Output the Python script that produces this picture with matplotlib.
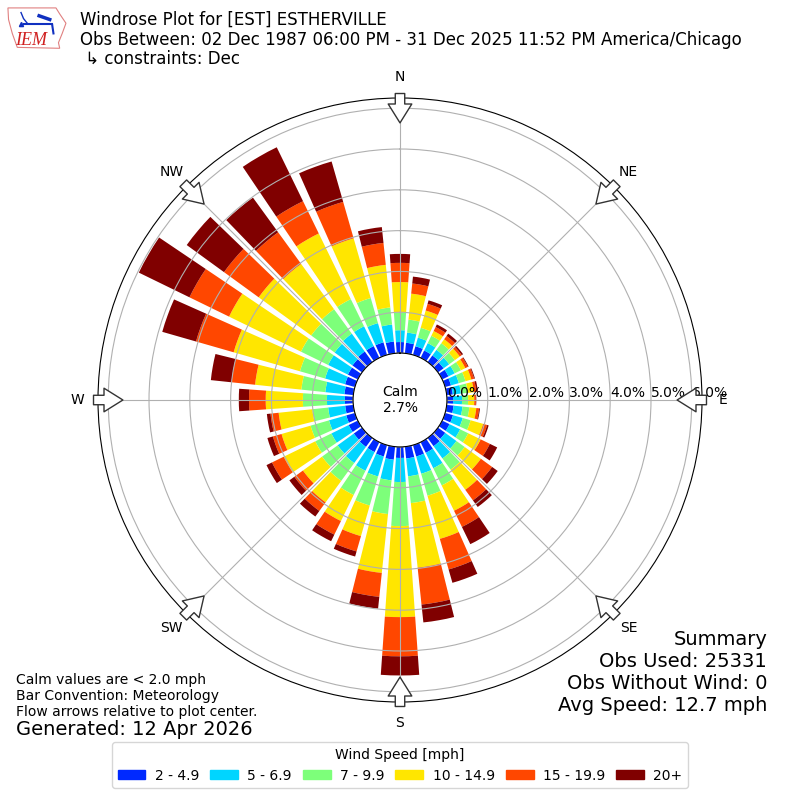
import numpy as np
import matplotlib
matplotlib.use("Agg")
import matplotlib.pyplot as plt
from matplotlib.patches import Patch, Polygon

# wind directions (deg, meteorological) and frequency (%) per speed bin
directions = np.arange(0, 360, 10)
speed_labels = ["2 - 4.9", "5 - 6.9", "7 - 9.9", "10 - 14.9", "15 - 19.9", "20+"]

freq_2_5 = [0.27, 0.26, 0.22, 0.20, 0.20, 0.17, 0.17, 0.15, 0.15, 0.15, 0.17, 0.20,
            0.20, 0.22, 0.25, 0.29, 0.29, 0.29, 0.27, 0.32, 0.29, 0.27, 0.27, 0.25,
            0.25, 0.22, 0.20, 0.20, 0.22, 0.25, 0.27, 0.29, 0.32, 0.32, 0.32, 0.29]
freq_5_7 = [0.29, 0.25, 0.22, 0.20, 0.17, 0.17, 0.17, 0.20, 0.20, 0.22, 0.22, 0.25,
            0.29, 0.34, 0.37, 0.42, 0.44, 0.44, 0.59, 0.51, 0.51, 0.51, 0.49, 0.49,
            0.47, 0.44, 0.42, 0.44, 0.47, 0.51, 0.54, 0.54, 0.54, 0.54, 0.49, 0.42]
freq_7_10 = [0.44, 0.32, 0.25, 0.20, 0.20, 0.17, 0.17, 0.17, 0.17, 0.15, 0.17, 0.20,
             0.22, 0.25, 0.34, 0.47, 0.56, 0.66, 1.08, 0.83, 0.74, 0.66, 0.54, 0.47,
             0.44, 0.47, 0.39, 0.59, 0.59, 0.64, 0.74, 0.71, 0.74, 0.74, 0.64, 0.42]
freq_10_15 = [0.74, 0.64, 0.44, 0.13, 0.12, 0.15, 0.12, 0.15, 0.15, 0.15, 0.17, 0.32,
              0.34, 0.49, 0.61, 0.69, 1.10, 1.59, 2.23, 1.45, 0.78, 0.71, 0.65, 0.58,
              0.86, 0.74, 0.83, 0.91, 1.14, 1.69, 1.96, 1.59, 1.37, 1.79, 1.52, 1.05]
freq_15_20 = [0.47, 0.25, 0.17, 0.11, 0.10, 0.06, 0.07, 0.07, 0.06, 0.04, 0.07, 0.10,
              0.25, 0.34, 0.32, 0.44, 0.78, 0.91, 0.96, 0.59, 0.39, 0.37, 0.26, 0.26,
              0.32, 0.22, 0.20, 0.41, 0.58, 0.96, 1.08, 1.05, 0.96, 0.88, 0.93, 0.54]
freq_20 = [0.22, 0.17, 0.09, 0.07, 0.07, 0.04, 0.02, 0.02, 0.04, 0.01, 0.02, 0.04,
           0.20, 0.17, 0.20, 0.47, 0.34, 0.44, 0.47, 0.29, 0.13, 0.18, 0.17, 0.15,
           0.15, 0.14, 0.09, 0.25, 0.51, 0.86, 1.38, 1.13, 1.05, 1.47, 1.03, 0.39]

freqs = [freq_2_5, freq_5_7, freq_7_10, freq_10_15, freq_15_20, freq_20]

calm_pct = 2.7
r_ticks = [0, 1, 2, 3, 4, 5, 6]
compass = ["N", "NE", "E", "SE", "S", "SW", "W", "NW"]

colors = [plt.get_cmap("jet")(v) for v in np.linspace(1 / 6, 1, 6)]

fig = plt.figure(figsize=(8, 8), dpi=100)
ax = fig.add_axes([98 / 800, 98 / 800, 604 / 800, 604 / 800], projection="polar")
ax.set_theta_zero_location("N")
ax.set_theta_direction(-1)

theta = np.deg2rad(directions)
width = np.deg2rad(8)
bottom = np.zeros(len(directions))
for vals, col, lab in zip(freqs, colors, speed_labels):
    vals = np.array(vals)
    ax.bar(theta, vals, width=width, bottom=bottom, color=col, linewidth=0, label=lab)
    bottom += vals

ax.set_rorigin(-1.15)
ax.set_ylim(0, 6.25)
ax.set_yticks(r_ticks)
ax.set_yticklabels([f"{t:.1f}%" for t in r_ticks], fontsize=10)
ax.set_rlabel_position(90)
ax.set_thetagrids(np.arange(0, 360, 45), labels=compass, fontsize=10)
ax.tick_params(axis="x", pad=4.6)

# flow arrows pointing to the plot center
for ang in np.arange(0, 360, 45):
    t = np.deg2rad(ang)
    ax.annotate("", xy=(t, 5.64), xytext=(t, 6.36), annotation_clip=False,
                arrowprops=dict(arrowstyle="simple,head_length=0.8,head_width=1.0,tail_width=0.4",
                                mutation_scale=17, fc="white", ec="#333333", lw=1,
                                shrinkA=0, shrinkB=0))

ax.text(0.5, 0.5, f"Calm\n{calm_pct:.1f}%", transform=ax.transAxes,
        ha="center", va="center", fontsize=10)

fig.text(0.1, 0.986, "Windrose Plot for [EST] ESTHERVILLE\n"
         "Obs Between: 02 Dec 1987 06:00 PM - 31 Dec 2025 11:52 PM America/Chicago\n"
         " \u21b3 constraints: Dec", ha="left", va="top", fontsize=12, linespacing=1.1)

fig.text(0.959, 0.159, "Summary\nObs Used: 25331\nObs Without Wind: 0\nAvg Speed: 12.7 mph",
         ha="right", va="center", fontsize=14, linespacing=1.2)

fig.text(0.02, 0.13, "Calm values are < 2.0 mph\nBar Convention: Meteorology\n"
         "Flow arrows relative to plot center.", ha="left", va="center", fontsize=10)
fig.text(0.02, 0.088, "Generated: 12 Apr 2026", ha="left", va="center", fontsize=14)

handles = [Patch(color=c) for c in colors]
fig.legend(handles, speed_labels, loc="lower center", bbox_to_anchor=(0.5, 0.006),
           ncol=6, title="Wind Speed [mph]", fontsize=10, title_fontsize=10,
           columnspacing=0.8, handletextpad=0.67, handleheight=0.6)

# small IEM logo
lax = fig.add_axes([0.006, 0.935, 0.078, 0.058])
lax.set_xlim(0, 1)
lax.set_ylim(0, 1)
lax.axis("off")
lax.add_patch(Polygon([[0.05, 0.95], [0.82, 0.95], [0.88, 0.82], [0.98, 0.62], [0.92, 0.4],
                       [0.86, 0.2], [0.88, 0.08], [0.2, 0.1], [0.12, 0.4], [0.06, 0.7]],
                      closed=True, fill=False, ec="#e08080", lw=0.8))
lax.plot([0.3, 0.75], [0.6, 0.6], color="#1030c0", lw=1.5)
lax.plot([0.26, 0.3, 0.36], [0.85, 0.72, 0.62], color="#1030c0", lw=1)
lax.plot([0.55, 0.72], [0.78, 0.7], color="#1030c0", lw=2.5)
lax.plot([0.76, 0.78], [0.58, 0.4], color="#1030c0", lw=1.5)
lax.plot([0.26], [0.6], marker="^", color="#1030c0", ms=3)
lax.text(0.42, 0.24, "IEM", color="#d02020", fontsize=13, style="italic",
         family="Liberation Serif", ha="center", va="center")

fig.savefig("out.png", dpi=100)
